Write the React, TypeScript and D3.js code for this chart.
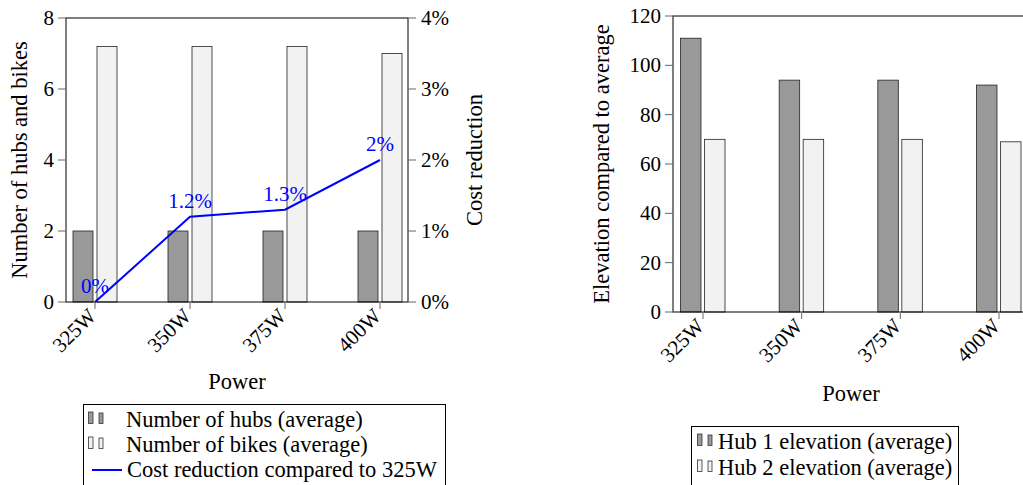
import * as d3 from 'd3';

// left chart data
const powers = ['325W', '350W', '375W', '400W'];
const hubs = [2, 2, 2, 2];
const bikes = [7.2, 7.2, 7.2, 7.0];
const costReduction = [0, 1.2, 1.3, 2];
const countTicks = [0, 2, 4, 6, 8];
const pctTicks = [0, 1, 2, 3, 4];

// right chart data
const hub1Elevation = [111, 94, 94, 92];
const hub2Elevation = [70, 70, 70, 69];
const elevTicks = [0, 20, 40, 60, 80, 100, 120];

const FONT = '"Liberation Serif"';
const DARK = '#999999';
const LIGHT = '#f2f2f2';
const BLUE = '#0000ff';
const TICK_FS = 21;
const LABEL_FS = 22.5;
const TICK_COLOR = '#666';

// left plot box
const L = { left: 66, right: 408, top: 18, bottom: 302 };
const x1 = d3.scalePoint<string>().domain(powers).range([95, 380]);
const y1 = d3.scaleLinear().domain([0, 8]).range([L.bottom, L.top]);
const y1r = d3.scaleLinear().domain([0, 4]).range([L.bottom, L.top]);

// right plot box (runs past the page edge, as in the original)
const R = { left: 673, right: 1029, top: 16, bottom: 312 };
const x2 = d3.scalePoint<string>().domain(powers).range([703, 999]);
const y2 = d3.scaleLinear().domain([0, 120]).range([R.bottom, R.top]);

const txt = { fontFamily: FONT };

const XTicks = ({ scale, y }) => (
  <g>
    {powers.map((p) => (
      <g key={p}>
        <line x1={scale(p)} x2={scale(p)} y1={y} y2={y + 7} stroke={TICK_COLOR} />
        <text
          transform={`translate(${scale(p) - 3},${y + 10}) rotate(-45)`}
          textAnchor="end"
          dy="0.35em"
          fontSize={TICK_FS}
          style={txt}
        >
          {p}
        </text>
      </g>
    ))}
  </g>
);

const YTicks = ({ scale, ticks, x, side, fmt }) => (
  <g>
    {ticks.map((t) => (
      <g key={t}>
        <line
          x1={x}
          x2={side === 'left' ? x - 8 : x + 8}
          y1={scale(t)}
          y2={scale(t)}
          stroke={TICK_COLOR}
        />
        <text
          x={side === 'left' ? x - 12 : x + 13}
          y={scale(t)}
          dy="0.33em"
          textAnchor={side === 'left' ? 'end' : 'start'}
          fontSize={TICK_FS}
          style={txt}
        >
          {fmt ? fmt(t) : t}
        </text>
      </g>
    ))}
  </g>
);

const LegendBars = ({ x, cy, fill }) => (
  <g>
    <rect x={x} y={cy - 8} width={4.5} height={11.5} fill={fill} stroke="#333" strokeWidth={0.8} />
    <rect x={x + 10.5} y={cy - 7} width={4} height={10.5} fill={fill} stroke="#333" strokeWidth={0.8} />
  </g>
);

const App = () => {
  const barW = 20;
  const line = d3.line<number>()
    .x((d, i) => x1(powers[i])!)
    .y((d) => y1r(d));

  const legendL = [
    { label: 'Number of hubs (average)', fill: DARK, kind: 'bar' },
    { label: 'Number of bikes (average)', fill: LIGHT, kind: 'bar' },
    { label: 'Cost reduction compared to 325W', fill: BLUE, kind: 'line' },
  ];
  const legendR = [
    { label: 'Hub 1 elevation (average)', fill: DARK },
    { label: 'Hub 2 elevation (average)', fill: LIGHT },
  ];

  return (
    <div style={{ position: 'absolute', left: 0, top: 0 }}>
      <svg width={1023} height={485} style={{ display: 'block', background: '#fff' }}>
        {/* ---------- left chart ---------- */}
        <g>
          {powers.map((p, i) => (
            <g key={p}>
              <rect
                x={x1(p)! - barW - 2}
                y={y1(hubs[i])}
                width={barW}
                height={L.bottom - y1(hubs[i])}
                fill={DARK}
                stroke="#222"
                strokeWidth={0.8}
              />
              <rect
                x={x1(p)! + 2}
                y={y1(bikes[i])}
                width={barW}
                height={L.bottom - y1(bikes[i])}
                fill={LIGHT}
                stroke="#222"
                strokeWidth={0.8}
              />
            </g>
          ))}
          <rect
            x={L.left}
            y={L.top}
            width={L.right - L.left}
            height={L.bottom - L.top}
            fill="none"
            stroke="#000"
          />
          <YTicks scale={y1} ticks={countTicks} x={L.left} side="left" />
          <YTicks scale={y1r} ticks={pctTicks} x={L.right} side="right" fmt={(t) => `${t}%`} />
          <XTicks scale={x1} y={L.bottom} />

          <path d={line(costReduction)!} fill="none" stroke={BLUE} strokeWidth={2} />
          {costReduction.map((v, i) => (
            <text
              key={i}
              x={x1(powers[i])}
              y={y1r(v) - 9}
              textAnchor="middle"
              fontSize={TICK_FS}
              fill={BLUE}
              style={txt}
            >
              {`${v}%`}
            </text>
          ))}

          <text
            transform={`translate(27,${(L.top + L.bottom) / 2}) rotate(-90)`}
            textAnchor="middle"
            fontSize={LABEL_FS}
            style={txt}
          >
            Number of hubs and bikes
          </text>
          <text
            transform={`translate(482,${(L.top + L.bottom) / 2}) rotate(-90)`}
            textAnchor="middle"
            fontSize={LABEL_FS}
            style={txt}
          >
            Cost reduction
          </text>
          <text x={(L.left + L.right) / 2} y={389} textAnchor="middle" fontSize={LABEL_FS} style={txt}>
            Power
          </text>

          <rect x={83.5} y={404.5} width={362} height={100} fill="#fff" stroke="#000" />
          {legendL.map((item, i) => {
            const cy = 420 + i * 25;
            return (
              <g key={item.label}>
                {item.kind === 'bar' ? (
                  <LegendBars x={88.5} cy={cy} fill={item.fill} />
                ) : (
                  <line x1={92} x2={122} y1={cy} y2={cy} stroke={BLUE} strokeWidth={2} />
                )}
                <text
                  x={item.kind === 'bar' ? 126 : 127}
                  y={cy}
                  dy="0.33em"
                  fontSize={LABEL_FS}
                  style={txt}
                >
                  {item.label}
                </text>
              </g>
            );
          })}
        </g>

        {/* ---------- right chart ---------- */}
        <g>
          {powers.map((p, i) => (
            <g key={p}>
              <rect
                x={x2(p)! - 20.5 - 2}
                y={y2(hub1Elevation[i])}
                width={20.5}
                height={R.bottom - y2(hub1Elevation[i])}
                fill={DARK}
                stroke="#222"
                strokeWidth={0.8}
              />
              <rect
                x={x2(p)! + 1.5}
                y={y2(hub2Elevation[i])}
                width={20.5}
                height={R.bottom - y2(hub2Elevation[i])}
                fill={LIGHT}
                stroke="#222"
                strokeWidth={0.8}
              />
            </g>
          ))}
          <rect
            x={R.left}
            y={R.top}
            width={R.right - R.left}
            height={R.bottom - R.top}
            fill="none"
            stroke="#000"
          />
          <YTicks scale={y2} ticks={elevTicks} x={R.left} side="left" />
          <XTicks scale={x2} y={R.bottom} />

          <text
            transform={`translate(609,${(R.top + R.bottom) / 2}) rotate(-90)`}
            textAnchor="middle"
            fontSize={LABEL_FS}
            style={txt}
          >
            Elevation compared to average
          </text>
          <text x={851} y={401} textAnchor="middle" fontSize={LABEL_FS} style={txt}>
            Power
          </text>

          <rect x={691.5} y={426.5} width={267} height={80} fill="#fff" stroke="#000" />
          {legendR.map((item, i) => {
            const cy = 442 + i * 26;
            return (
              <g key={item.label}>
                <LegendBars x={697.5} cy={cy} fill={item.fill} />
                <text x={718} y={cy} dy="0.33em" fontSize={LABEL_FS} style={txt}>
                  {item.label}
                </text>
              </g>
            );
          })}
        </g>
      </svg>
    </div>
  );
};

export default App;
